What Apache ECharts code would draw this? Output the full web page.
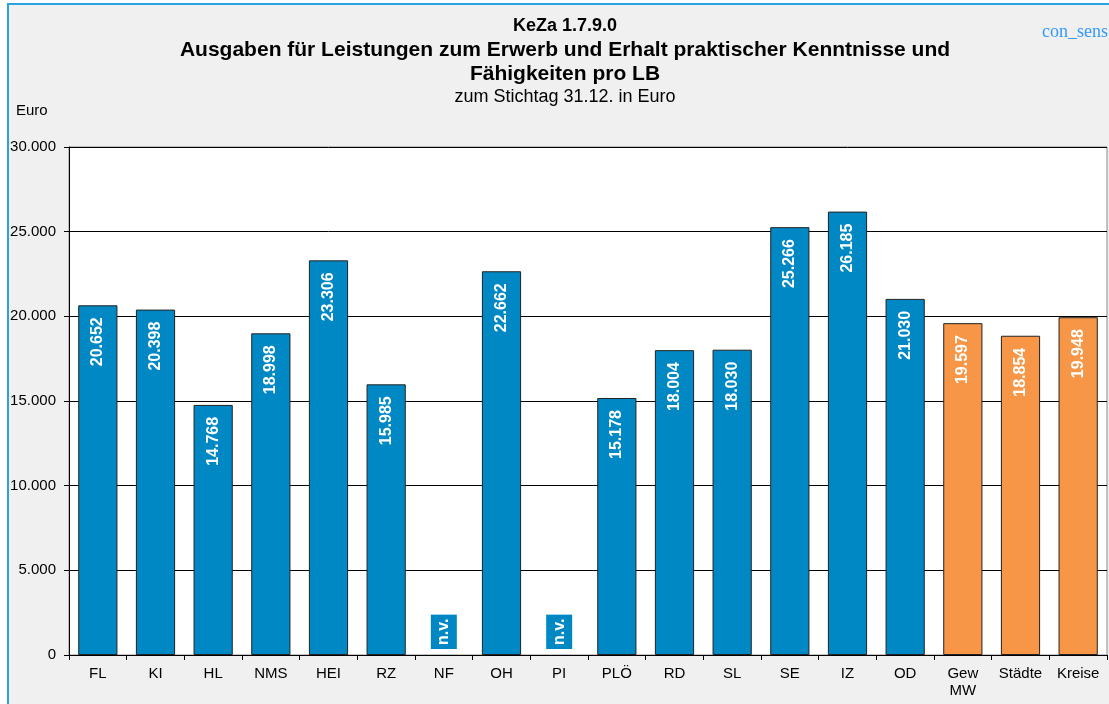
<!DOCTYPE html>
<html>
<head>
    <meta charset="utf-8">
    <title>KeZa 1.7.9.0</title>
    <script src="https://cdn.jsdelivr.net/npm/echarts@6/dist/echarts.min.js"></script>
    <style>
        body { margin: 0; background: #fff; }
        #frame { position: absolute; left: 7px; top: 3px; width: 1102px; height: 701px;
                 background: #f0f0f0; border-left: 2px solid #29a3dd; border-top: 2px solid #29a3dd; }
        #main { position: absolute; left: 0; top: 0; width: 1109px; height: 704px; }
    </style>
</head>
<body>
    <div id="frame"></div>
    <div id="main"></div>
    <script type="text/javascript">
        // Kategorien und Werte (null = n.v.)
        var categories = ['FL', 'KI', 'HL', 'NMS', 'HEI', 'RZ', 'NF', 'OH', 'PI', 'PLÖ', 'RD', 'SL', 'SE', 'IZ', 'OD', 'Gew\nMW', 'Städte', 'Kreise'];
        var values = [20652, 20398, 14768, 18998, 23306, 15985, null, 22662, null, 15178, 18004, 18030, 25266, 26185, 21030, 19597, 18854, 19948];
        // die letzten drei sind Vergleichswerte
        var isAverage = [false, false, false, false, false, false, false, false, false, false, false, false, false, false, false, true, true, true];
        var yTicks = [0, 5000, 10000, 15000, 20000, 25000, 30000];

        var BLUE = '#0088c4';
        var ORANGE = '#f79646';
        var FONT = '"Liberation Sans", Arial, sans-serif';

        var fmt = function (v) {
            return String(v).replace(/\B(?=(\d{3})+(?!\d))/g, '.');
        };

        var barData = values.map(function (v, i) {
            if (v === null) {
                return {
                    value: 0,
                    itemStyle: { borderWidth: 0 },
                    label: {
                        show: true,
                        formatter: 'n.v.',
                        position: 'insideBottom',
                        distance: 6,
                        rotate: 90,
                        align: 'left',
                        verticalAlign: 'middle',
                        backgroundColor: BLUE,
                        padding: [5, 4, 5, 4]
                    }
                };
            }
            return {
                value: v,
                itemStyle: { color: isAverage[i] ? ORANGE : BLUE }
            };
        });

        var myChart = echarts.init(document.getElementById('main'));

        myChart.setOption({
            animation: false,
            backgroundColor: 'transparent',
            textStyle: { fontFamily: FONT },
            grid: {
                left: 69, right: 2, top: 147, bottom: 49,
                show: true, backgroundColor: '#fff', borderColor: '#888', borderWidth: 1
            },
            graphic: [
                { type: 'text', x: 565, y: 26, style: { text: 'KeZa 1.7.9.0', font: 'bold 18px ' + FONT, fill: '#000', textAlign: 'center', textVerticalAlign: 'middle' } },
                { type: 'text', x: 565, y: 50, style: { text: 'Ausgaben für Leistungen zum Erwerb und Erhalt praktischer Kenntnisse und', font: 'bold 21px ' + FONT, fill: '#000', textAlign: 'center', textVerticalAlign: 'middle' } },
                { type: 'text', x: 565, y: 74, style: { text: 'Fähigkeiten pro LB', font: 'bold 21px ' + FONT, fill: '#000', textAlign: 'center', textVerticalAlign: 'middle' } },
                { type: 'text', x: 565, y: 97, style: { text: 'zum Stichtag 31.12. in Euro', font: '18px ' + FONT, fill: '#000', textAlign: 'center', textVerticalAlign: 'middle' } },
                { type: 'text', x: 16, y: 111, style: { text: 'Euro', font: '15px ' + FONT, fill: '#000', textAlign: 'left', textVerticalAlign: 'middle' } },
                { type: 'text', x: 1108, y: 32, style: { text: 'con_sens', font: '18px "Liberation Serif", "Times New Roman", serif', fill: '#3399ff', textAlign: 'right', textVerticalAlign: 'middle' } }
            ],
            xAxis: {
                type: 'category',
                data: categories,
                axisLine: { lineStyle: { color: '#000', width: 1 } },
                axisTick: { show: true, length: 5, inside: false, lineStyle: { color: '#000' } },
                axisLabel: { color: '#000', fontSize: 15, margin: 10, lineHeight: 17, interval: 0 }
            },
            yAxis: {
                type: 'value',
                min: yTicks[0],
                max: yTicks[yTicks.length - 1],
                interval: 5000,
                axisLine: { show: true, lineStyle: { color: '#000', width: 1 } },
                axisTick: { show: true, length: 5, lineStyle: { color: '#000' } },
                axisLabel: { color: '#000', fontSize: 15, margin: 13, formatter: fmt },
                splitLine: { lineStyle: { color: '#000', width: 1 } }
            },
            series: [{
                type: 'bar',
                data: barData,
                barCategoryGap: '32%',
                itemStyle: { borderColor: '#222', borderWidth: 1 },
                label: {
                    show: true,
                    position: 'insideTop',
                    distance: 12,
                    rotate: 90,
                    align: 'right',
                    verticalAlign: 'middle',
                    color: '#fff',
                    fontWeight: 'bold',
                    fontSize: 16,
                    formatter: function (p) { return fmt(p.value); }
                }
            }]
        });
    </script>
</body>
</html>
